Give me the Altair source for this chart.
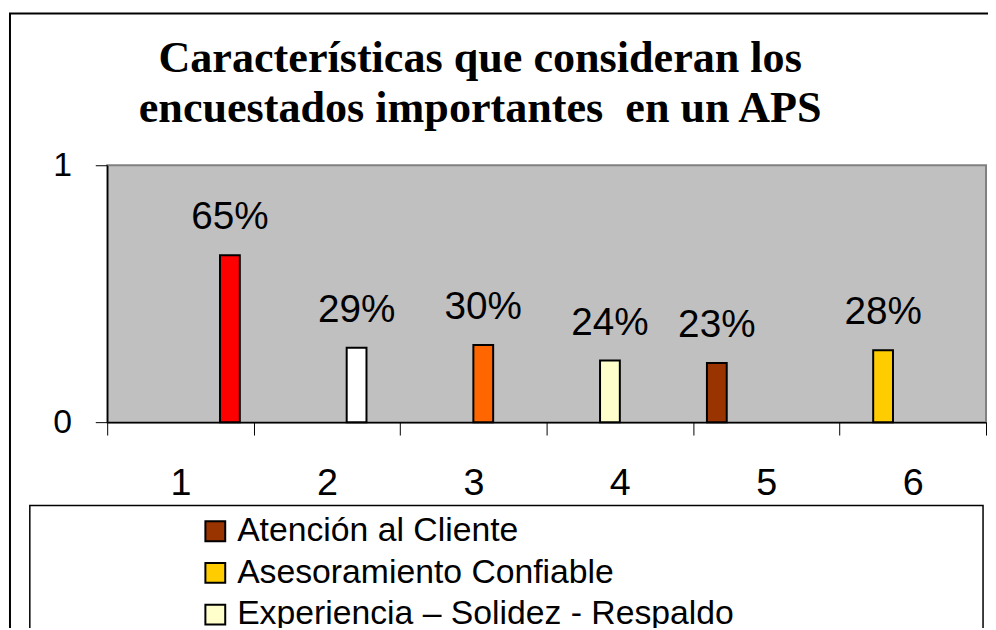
import altair as alt
import pandas as pd

# ---- data ----
categories = ["1", "2", "3", "4", "5", "6"]
series = [
    "Atención al Cliente",
    "Asesoramiento Confiable",
    "Experiencia – Solidez - Respaldo",
    "Característica 4",
    "Característica 5",
    "Característica 6",
]
series_category = ["5", "6", "4", "3", "2", "1"]
values = [0.23, 0.28, 0.24, 0.30, 0.29, 0.65]
colors = ["#993300", "#FFCC00", "#FFFFCC", "#FF6600", "#FFFFFF", "#FF0000"]
legend_visible = series[:3]
title_lines = ["Características que consideran los", "encuestados importantes \u00a0en un APS"]

df = pd.DataFrame({"cat": series_category, "serie": series, "valor": values})

SANS = "Liberation Sans"

x_enc = alt.X(
    "cat:N",
    scale=alt.Scale(domain=categories, paddingInner=0, paddingOuter=0),
    axis=alt.Axis(
        title=None, labelAngle=0, tickBand="extent", tickSize=13,
        tickColor="black", tickWidth=1, domainColor="black", domainWidth=1.5,
        labelFont=SANS, labelFontSize=38, labelColor="black", labelPadding=30,
        grid=False,
    ),
)
xo_enc = alt.XOffset(
    "serie:N", scale=alt.Scale(domain=series, paddingInner=0, paddingOuter=0.7)
)
y_enc = alt.Y(
    "valor:Q",
    scale=alt.Scale(domain=[0, 1], nice=False),
    axis=alt.Axis(
        title=None, values=[0, 1], format="d", tickSize=12, tickColor="black",
        domainColor="black", domainWidth=1.5, labelFont=SANS, labelFontSize=34,
        labelColor="black", labelPadding=24, grid=False,
    ),
)

base = alt.Chart(df)

bars = base.mark_bar(stroke="black", strokeWidth=2).encode(
    x=x_enc,
    xOffset=xo_enc,
    y=y_enc,
    color=alt.Color(
        "serie:N",
        scale=alt.Scale(domain=series, range=colors),
        legend=alt.Legend(
            title=None, values=legend_visible, orient="none", legendX=92,
            legendY=352, symbolType="square", symbolSize=400,
            symbolStrokeColor="black", symbolStrokeWidth=2, symbolOpacity=1,
            labelFont=SANS, labelFontSize=34, labelColor="black",
            labelOffset=5, rowPadding=8, padding=0, labelLimit=800,
        ),
    ),
)

labels = base.mark_text(
    font=SANS, fontSize=39, color="black", baseline="bottom", dy=-18
).encode(
    x=x_enc, xOffset=xo_enc, y=y_enc, text=alt.Text("valor:Q", format=".0%")
)

frame_df = pd.DataFrame({"k": [0]})
outer = alt.Chart(frame_df).mark_rect(
    fillOpacity=0, stroke="black", strokeWidth=2
).encode(x=alt.value(-98), x2=alt.value(1000), y=alt.value(-153), y2=alt.value(800))

legend_box = alt.Chart(frame_df).mark_rect(
    fill="white", stroke="black", strokeWidth=1.5
).encode(x=alt.value(-78), x2=alt.value(883), y=alt.value(343), y2=alt.value(800))

chart = alt.layer(outer, legend_box, bars, labels).properties(
    width=886,
    height=259,
    autosize=alt.AutoSizeParams(type="none"),
    padding={"left": 100, "top": 156, "right": 2, "bottom": 205},
    background="white",
    title=alt.TitleParams(
        text=title_lines, font="Liberation Serif", fontSize=44.5,
        fontWeight="bold", color="black", anchor="middle", dx=-67,
        lineHeight=51, offset=30, dy=150,
    ),
).configure_view(
    fill="#C0C0C0", stroke="#808080", strokeWidth=2
)

chart.save("out.html", embed_options={"renderer": "svg", "actions": False})
